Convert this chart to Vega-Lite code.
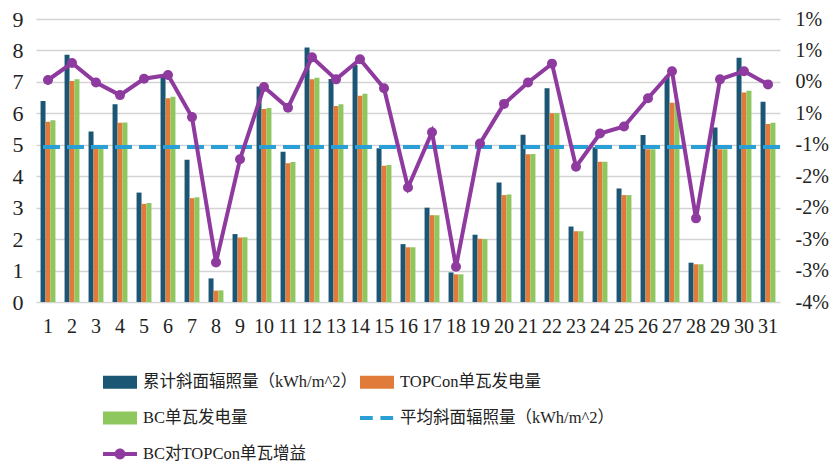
{
  "$schema": "https://vega.github.io/schema/vega-lite/v6.json",
  "width": 744,
  "height": 283,
  "autosize": {"type": "none"},
  "padding": {"left": 36, "top": 19, "right": 57, "bottom": 168},
  "background": "white",
  "config": {
    "view": {"stroke": null},
    "font": "Liberation Serif, Noto Sans CJK SC",
    "axis": {"labelFont": "Liberation Serif, Noto Sans CJK SC", "labelColor": "#222222", "domain": false, "ticks": false, "title": null}
  },
  "datasets": {
    "bars": [
      {"day": 1, "series": "累计斜面辐照量（kWh/m^2）", "value": 6.39}, {"day": 1, "series": "TOPCon单瓦发电量", "value": 5.73}, {"day": 1, "series": "BC单瓦发电量", "value": 5.78},
      {"day": 2, "series": "累计斜面辐照量（kWh/m^2）", "value": 7.86}, {"day": 2, "series": "TOPCon单瓦发电量", "value": 7.03}, {"day": 2, "series": "BC单瓦发电量", "value": 7.08},
      {"day": 3, "series": "累计斜面辐照量（kWh/m^2）", "value": 5.42}, {"day": 3, "series": "TOPCon单瓦发电量", "value": 4.87}, {"day": 3, "series": "BC单瓦发电量", "value": 4.88},
      {"day": 4, "series": "累计斜面辐照量（kWh/m^2）", "value": 6.29}, {"day": 4, "series": "TOPCon单瓦发电量", "value": 5.70}, {"day": 4, "series": "BC单瓦发电量", "value": 5.71},
      {"day": 5, "series": "累计斜面辐照量（kWh/m^2）", "value": 3.48}, {"day": 5, "series": "TOPCon单瓦发电量", "value": 3.12}, {"day": 5, "series": "BC单瓦发电量", "value": 3.15},
      {"day": 6, "series": "累计斜面辐照量（kWh/m^2）", "value": 7.19}, {"day": 6, "series": "TOPCon单瓦发电量", "value": 6.48}, {"day": 6, "series": "BC单瓦发电量", "value": 6.53},
      {"day": 7, "series": "累计斜面辐照量（kWh/m^2）", "value": 4.52}, {"day": 7, "series": "TOPCon单瓦发电量", "value": 3.30}, {"day": 7, "series": "BC单瓦发电量", "value": 3.33},
      {"day": 8, "series": "累计斜面辐照量（kWh/m^2）", "value": 0.75}, {"day": 8, "series": "TOPCon单瓦发电量", "value": 0.36}, {"day": 8, "series": "BC单瓦发电量", "value": 0.37},
      {"day": 9, "series": "累计斜面辐照量（kWh/m^2）", "value": 2.16}, {"day": 9, "series": "TOPCon单瓦发电量", "value": 2.05}, {"day": 9, "series": "BC单瓦发电量", "value": 2.06},
      {"day": 10, "series": "累计斜面辐照量（kWh/m^2）", "value": 6.85}, {"day": 10, "series": "TOPCon单瓦发电量", "value": 6.14}, {"day": 10, "series": "BC单瓦发电量", "value": 6.17},
      {"day": 11, "series": "累计斜面辐照量（kWh/m^2）", "value": 4.78}, {"day": 11, "series": "TOPCon单瓦发电量", "value": 4.41}, {"day": 11, "series": "BC单瓦发电量", "value": 4.45},
      {"day": 12, "series": "累计斜面辐照量（kWh/m^2）", "value": 8.09}, {"day": 12, "series": "TOPCon单瓦发电量", "value": 7.08}, {"day": 12, "series": "BC单瓦发电量", "value": 7.13},
      {"day": 13, "series": "累计斜面辐照量（kWh/m^2）", "value": 7.09}, {"day": 13, "series": "TOPCon单瓦发电量", "value": 6.23}, {"day": 13, "series": "BC单瓦发电量", "value": 6.29},
      {"day": 14, "series": "累计斜面辐照量（kWh/m^2）", "value": 7.54}, {"day": 14, "series": "TOPCon单瓦发电量", "value": 6.56}, {"day": 14, "series": "BC单瓦发电量", "value": 6.62},
      {"day": 15, "series": "累计斜面辐照量（kWh/m^2）", "value": 4.89}, {"day": 15, "series": "TOPCon单瓦发电量", "value": 4.33}, {"day": 15, "series": "BC单瓦发电量", "value": 4.36},
      {"day": 16, "series": "累计斜面辐照量（kWh/m^2）", "value": 1.84}, {"day": 16, "series": "TOPCon单瓦发电量", "value": 1.74}, {"day": 16, "series": "BC单瓦发电量", "value": 1.74},
      {"day": 17, "series": "累计斜面辐照量（kWh/m^2）", "value": 3.00}, {"day": 17, "series": "TOPCon单瓦发电量", "value": 2.76}, {"day": 17, "series": "BC单瓦发电量", "value": 2.76},
      {"day": 18, "series": "累计斜面辐照量（kWh/m^2）", "value": 0.94}, {"day": 18, "series": "TOPCon单瓦发电量", "value": 0.88}, {"day": 18, "series": "BC单瓦发电量", "value": 0.88},
      {"day": 19, "series": "累计斜面辐照量（kWh/m^2）", "value": 2.14}, {"day": 19, "series": "TOPCon单瓦发电量", "value": 2.01}, {"day": 19, "series": "BC单瓦发电量", "value": 2.00},
      {"day": 20, "series": "累计斜面辐照量（kWh/m^2）", "value": 3.80}, {"day": 20, "series": "TOPCon单瓦发电量", "value": 3.40}, {"day": 20, "series": "BC单瓦发电量", "value": 3.42},
      {"day": 21, "series": "累计斜面辐照量（kWh/m^2）", "value": 5.32}, {"day": 21, "series": "TOPCon单瓦发电量", "value": 4.70}, {"day": 21, "series": "BC单瓦发电量", "value": 4.71},
      {"day": 22, "series": "累计斜面辐照量（kWh/m^2）", "value": 6.80}, {"day": 22, "series": "TOPCon单瓦发电量", "value": 6.00}, {"day": 22, "series": "BC单瓦发电量", "value": 6.01},
      {"day": 23, "series": "累计斜面辐照量（kWh/m^2）", "value": 2.40}, {"day": 23, "series": "TOPCon单瓦发电量", "value": 2.25}, {"day": 23, "series": "BC单瓦发电量", "value": 2.25},
      {"day": 24, "series": "累计斜面辐照量（kWh/m^2）", "value": 4.92}, {"day": 24, "series": "TOPCon单瓦发电量", "value": 4.46}, {"day": 24, "series": "BC单瓦发电量", "value": 4.46},
      {"day": 25, "series": "累计斜面辐照量（kWh/m^2）", "value": 3.61}, {"day": 25, "series": "TOPCon单瓦发电量", "value": 3.40}, {"day": 25, "series": "BC单瓦发电量", "value": 3.40},
      {"day": 26, "series": "累计斜面辐照量（kWh/m^2）", "value": 5.31}, {"day": 26, "series": "TOPCon单瓦发电量", "value": 4.86}, {"day": 26, "series": "BC单瓦发电量", "value": 4.86},
      {"day": 27, "series": "累计斜面辐照量（kWh/m^2）", "value": 7.17}, {"day": 27, "series": "TOPCon单瓦发电量", "value": 6.34}, {"day": 27, "series": "BC单瓦发电量", "value": 6.35},
      {"day": 28, "series": "累计斜面辐照量（kWh/m^2）", "value": 1.25}, {"day": 28, "series": "TOPCon单瓦发电量", "value": 1.20}, {"day": 28, "series": "BC单瓦发电量", "value": 1.20},
      {"day": 29, "series": "累计斜面辐照量（kWh/m^2）", "value": 5.55}, {"day": 29, "series": "TOPCon单瓦发电量", "value": 4.86}, {"day": 29, "series": "BC单瓦发电量", "value": 4.86},
      {"day": 30, "series": "累计斜面辐照量（kWh/m^2）", "value": 7.77}, {"day": 30, "series": "TOPCon单瓦发电量", "value": 6.66}, {"day": 30, "series": "BC单瓦发电量", "value": 6.72},
      {"day": 31, "series": "累计斜面辐照量（kWh/m^2）", "value": 6.37}, {"day": 31, "series": "TOPCon单瓦发电量", "value": 5.66}, {"day": 31, "series": "BC单瓦发电量", "value": 5.70}
    ],
    "gain": [
      {"day": 1, "gain": 0.03}, {"day": 2, "gain": 0.30}, {"day": 3, "gain": -0.01}, {"day": 4, "gain": -0.21},
      {"day": 5, "gain": 0.05}, {"day": 6, "gain": 0.11}, {"day": 7, "gain": -0.56}, {"day": 8, "gain": -2.87},
      {"day": 9, "gain": -1.23}, {"day": 10, "gain": -0.08}, {"day": 11, "gain": -0.41}, {"day": 12, "gain": 0.39},
      {"day": 13, "gain": 0.04}, {"day": 14, "gain": 0.36}, {"day": 15, "gain": -0.10}, {"day": 16, "gain": -1.68},
      {"day": 17, "gain": -0.80}, {"day": 18, "gain": -2.94}, {"day": 19, "gain": -0.98}, {"day": 20, "gain": -0.35},
      {"day": 21, "gain": -0.01}, {"day": 22, "gain": 0.29}, {"day": 23, "gain": -1.35}, {"day": 24, "gain": -0.82},
      {"day": 25, "gain": -0.71}, {"day": 26, "gain": -0.26}, {"day": 27, "gain": 0.17}, {"day": 28, "gain": -2.17},
      {"day": 29, "gain": 0.04}, {"day": 30, "gain": 0.17}, {"day": 31, "gain": -0.04}
    ],
    "avg": [{"avg": 4.93}]
  },
  "encoding": {
    "x": {
      "field": "day", "type": "ordinal",
      "scale": {"paddingInner": 0.38, "paddingOuter": 0.19},
      "axis": {"labelAngle": 0, "labelFontSize": 20, "labelPadding": 14, "grid": false}
    }
  },
  "layer": [
    {
      "layer": [
        {
          "data": {"name": "bars"},
          "mark": {"type": "bar"},
          "encoding": {
            "xOffset": {"field": "series", "type": "nominal", "sort": ["累计斜面辐照量（kWh/m^2）", "TOPCon单瓦发电量", "BC单瓦发电量"], "scale": {"paddingInner": 0}},
            "y": {
              "field": "value", "type": "quantitative",
              "scale": {"domain": [0, 9], "nice": false},
              "axis": {"values": [0, 1, 2, 3, 4, 5, 6, 7, 8, 9], "labelOverlap": false, "labelFontSize": 22, "labelPadding": 13, "grid": true, "gridColor": "#d4d4d4", "gridWidth": 1.5}
            },
            "color": {
              "field": "series", "type": "nominal",
              "scale": {
                "domain": ["累计斜面辐照量（kWh/m^2）", "TOPCon单瓦发电量", "BC单瓦发电量", "平均斜面辐照量（kWh/m^2）", "BC对TOPCon单瓦增益"],
                "range": ["#1b5675", "#e07b39", "#8dc75e", "#2a9fd6", "#8e3a9e"]
              },
              "legend": {
                "title": null,
                "orient": "none",
                "direction": "horizontal",
                "legendX": 67,
                "legendY": 346,
                "columns": 2,
                "columnPadding": 3,
                "rowPadding": 10,
                "labelFont": "Liberation Serif, Noto Sans CJK SC",
                "labelFontSize": 16.5,
                "labelColor": "#222222",
                "labelLimit": 0,
                "labelOffset": 6,
                "symbolSize": 1156,
                "symbolStrokeWidth": 0,
                "encode": {
                  "symbols": {
                    "update": {
                      "shape": {"signal": "indexof(datum.value, '平均') >= 0 ? 'M-1,-0.12H-0.25V0.12H-1Z M0.2,-0.12H0.95V0.12H0.2Z' : indexof(datum.value, '增益') >= 0 ? 'M-1,-0.12H-0.3V0.12H-1Z M0.3,-0.12H1V0.12H0.3Z M-0.32,0A0.32,0.32 0 1,1 0.32,0A0.32,0.32 0 1,1 -0.32,0Z' : 'M-1,-0.38H1V0.38H-1Z'"},
                      "fill": {"signal": "scale('color', datum.value)"},
                      "stroke": {"value": "transparent"},
                      "opacity": {"value": 1},
                      "fillOpacity": {"value": 1}
                    }
                  }
                }
              }
            }
          }
        },
        {
          "data": {"name": "avg"},
          "mark": {"type": "rule", "color": "#2a9fd6", "strokeWidth": 4, "strokeDash": [17, 7]},
          "encoding": {
            "x": null,
            "y": {
              "field": "avg", "type": "quantitative",
              "axis": {"values": [0, 1, 2, 3, 4, 5, 6, 7, 8, 9], "labelOverlap": false, "labelFontSize": 22, "labelPadding": 13, "grid": true, "gridColor": "#d4d4d4", "gridWidth": 1.5}
            }
          }
        }
      ]
    },
    {
      "data": {"name": "gain"},
      "mark": {"type": "line", "color": "#8e3a9e", "strokeWidth": 4, "point": {"filled": true, "size": 100, "color": "#8e3a9e"}},
      "encoding": {
        "y": {
          "field": "gain", "type": "quantitative",
          "scale": {"domain": [-3.5, 1], "nice": false},
          "axis": {
            "orient": "right",
            "values": [-3.5, -3, -2.5, -2, -1.5, -1, -0.5, 0, 0.5, 1],
            "labelOverlap": false,
            "labelExpr": "datum.value == -0.5 ? '1%' : (datum.value < 0 ? '-' : '') + round(abs(datum.value)) + '%'",
            "labelFontSize": 20,
            "labelPadding": 15,
            "grid": false
          }
        }
      }
    }
  ],
  "resolve": {"scale": {"y": "independent"}}
}
